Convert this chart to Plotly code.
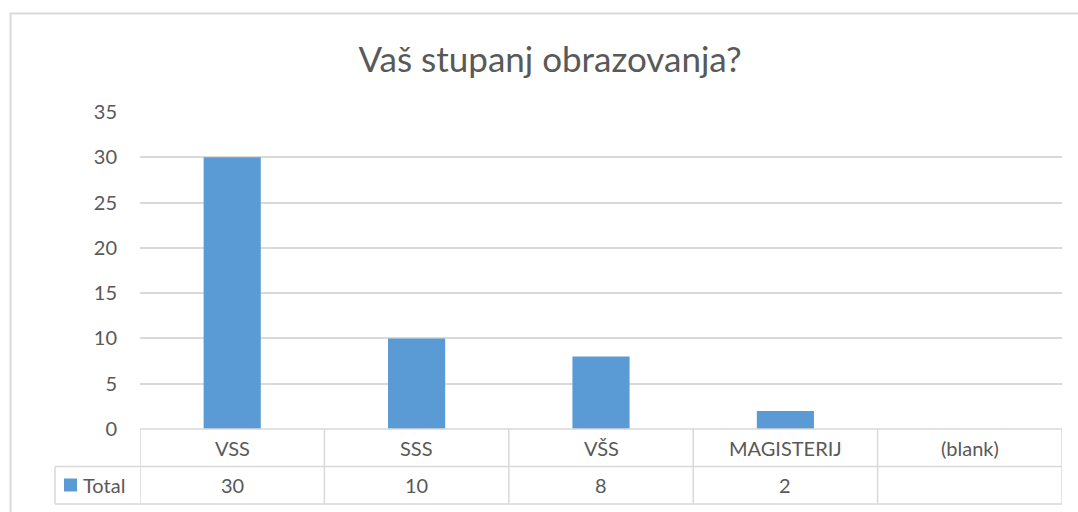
import plotly.graph_objects as go

# Pivot data: education level counts
categories = ["VSS", "SSS", "VŠS", "MAGISTERIJ", "(blank)"]
totals = [30, 10, 8, 2, None]
series_name = "Total"
y_ticks = [0, 5, 10, 15, 20, 25, 30, 35]

W, H = 1078, 512
PLOT_L, PLOT_R, PLOT_T, PLOT_B = 140, 1062, 112, 429
ROW1_B, ROW2_B, TABLE_L = 466.5, 504, 55

BAR = "#5B9BD5"
GRID = "#D9D9D9"
TXT = "#595959"
FONT = "Lato"


def px_x(px):
    return (px - PLOT_L) / (PLOT_R - PLOT_L)


def px_y(py):
    return (PLOT_B - py) / (PLOT_B - PLOT_T)


xs = list(range(len(categories)))

fig = go.Figure(
    go.Bar(
        x=xs,
        y=totals,
        name=series_name,
        marker=dict(color=BAR, line=dict(width=0)),
        width=0.31,
    )
)

shapes = []
# outer chart frame
shapes.append(dict(type="rect", xref="paper", yref="paper",
                   x0=px_x(10.5), x1=px_x(1090), y0=px_y(530), y1=px_y(13.5),
                   line=dict(color=GRID, width=2), layer="below"))

# data table grid
line_style = dict(color=GRID, width=1.5)
for yy in (ROW1_B, ROW2_B):
    shapes.append(dict(type="line", xref="paper", yref="paper",
                       x0=px_x(TABLE_L), x1=1, y0=px_y(yy), y1=px_y(yy),
                       line=line_style, layer="above"))
shapes.append(dict(type="line", xref="paper", yref="paper",
                   x0=0, x1=1, y0=0, y1=0, line=line_style, layer="above"))
shapes.append(dict(type="line", xref="paper", yref="paper",
                   x0=px_x(TABLE_L), x1=px_x(TABLE_L), y0=px_y(ROW2_B), y1=px_y(ROW1_B),
                   line=line_style))
for b in [i - 0.5 for i in range(len(categories) + 1)]:
    shapes.append(dict(type="line", xref="x", yref="paper",
                       x0=b, x1=b, y0=px_y(ROW2_B), y1=0, line=line_style))

# legend key square
shapes.append(dict(type="rect", xref="paper", yref="paper",
                   x0=px_x(64), x1=px_x(77), y0=px_y(491.5), y1=px_y(478.5),
                   fillcolor=BAR, line=dict(width=0)))

annotations = []
row1_mid = (PLOT_B + ROW1_B) / 2
row2_mid = (ROW1_B + ROW2_B) / 2
cell_font = dict(family=FONT, size=20, color=TXT)
for i, (cat, val) in enumerate(zip(categories, totals)):
    annotations.append(dict(x=i, y=px_y(row1_mid), xref="x", yref="paper",
                            yanchor="middle", xanchor="center",
                            text=cat, showarrow=False, font=cell_font))
    annotations.append(dict(x=i, y=px_y(row2_mid), xref="x", yref="paper",
                            yanchor="middle", xanchor="center",
                            text="" if val is None else str(val), showarrow=False,
                            font=cell_font))

annotations.append(dict(x=px_x(81), y=px_y(row2_mid), xref="paper", yref="paper",
                        xanchor="left", yanchor="middle", text=series_name,
                        showarrow=False, font=cell_font))

fig.update_layout(
    width=W, height=H,
    margin=dict(l=PLOT_L, r=W - PLOT_R, t=PLOT_T, b=H - PLOT_B),
    paper_bgcolor="white", plot_bgcolor="white",
    showlegend=False,
    title=dict(text="Vaš stupanj obrazovanja?", x=550 / W, xanchor="center",
               y=1 - 60 / H, yanchor="middle",
               font=dict(family=FONT, size=35, color=TXT)),
    xaxis=dict(range=[-0.5, len(categories) - 0.5], showticklabels=False,
               showgrid=False, zeroline=False, showline=False, fixedrange=True),
    yaxis=dict(range=[0, 35], tickvals=y_ticks, showgrid=True, gridcolor=GRID,
               gridwidth=1.5, zeroline=False, showline=False,
               ticklabelstandoff=22,
               tickfont=dict(family=FONT, size=20, color=TXT)),
    shapes=shapes,
    annotations=annotations,
    font=dict(family=FONT, color=TXT),
)

fig.write_html("out.html")
